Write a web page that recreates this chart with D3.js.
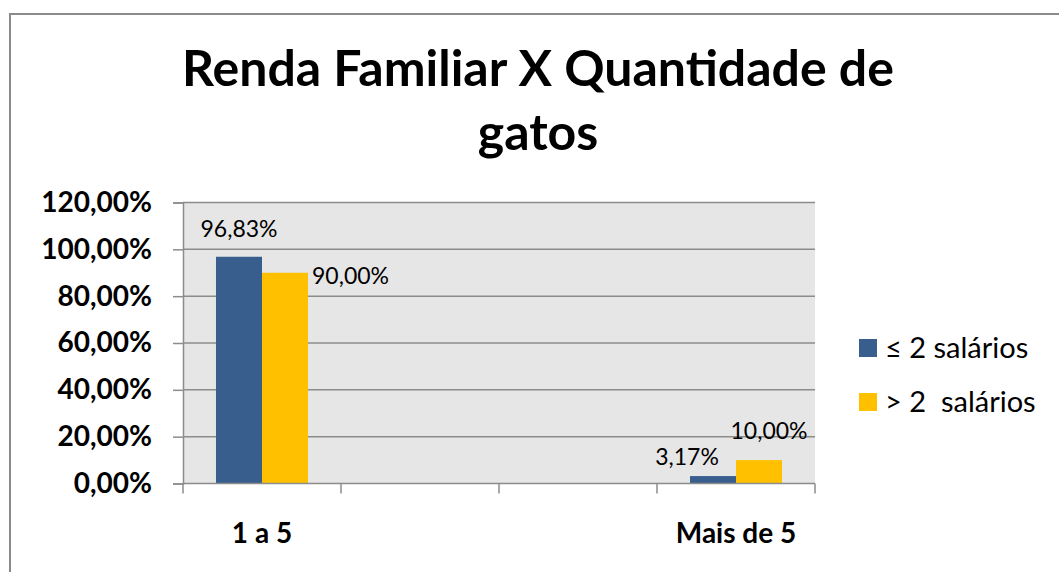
<!DOCTYPE html>
<html>
<head>
<meta charset="utf-8">
<script src="https://cdn.jsdelivr.net/npm/d3@7"></script>
<style>
  html, body { margin: 0; padding: 0; background: #ffffff; }
  svg { display: block; }
  text { font-family: Lato, "Open Sans", sans-serif; fill: #000; }
</style>
</head>
<body>
<svg id="chart" width="1059" height="572"></svg>
<script>
// ---- data ----
const titleLines = ["Renda Familiar X Quantidade de", "gatos"];
const categories = ["1 a 5", "", "", "Mais de 5"];
const seriesNames = ["\u2264 2 salários", "> 2  salários"];
const seriesLow = [96.83, null, null, 3.17];   // ≤ 2 salários
const seriesHigh = [90.00, null, null, 10.00]; // > 2 salários
const yTicks = [0, 20, 40, 60, 80, 100, 120];

// ---- style ----
const colors = ["#385E8D", "#FFC000"];
// label offsets (dx, dy, anchor) for each series / category, mimic manual placement
const labelPlacement = [
  [{dx: 0, dy: -20, anchor: "middle"}, null, null, {dx: -26, dy: -11, anchor: "middle"}],
  [{dx: 4, dy: 11, anchor: "start"}, null, null, {dx: 10, dy: -21, anchor: "middle"}]
];

const svg = d3.select("#chart");
const margin = {left: 183, right: 815, top: 202.5, bottom: 483.5};

// outer chart border
svg.append("path")
  .attr("d", "M10,572 L10,14 L1059,14")
  .attr("fill", "none").attr("stroke", "#8a8a8a").attr("stroke-width", 2);

// title
svg.append("text").attr("x", 538).attr("y", 86).attr("text-anchor", "middle")
  .style("font-size", "50px").style("font-weight", "700").text(titleLines[0]);
svg.append("text").attr("x", 538).attr("y", 150).attr("text-anchor", "middle")
  .style("font-size", "50px").style("font-weight", "700").text(titleLines[1]);

const idx = categories.map((d, i) => i);
const x0 = d3.scaleBand().domain(idx).range([margin.left, margin.right]).padding(0);
const x1 = d3.scaleBand().domain([0, 1]).range([0, x0.bandwidth()]).paddingInner(0).paddingOuter(0.717);
const y = d3.scaleLinear().domain([0, 120]).range([margin.bottom, margin.top]);

// plot background
svg.append("rect").attr("x", margin.left).attr("y", margin.top)
  .attr("width", margin.right - margin.left).attr("height", margin.bottom - margin.top)
  .attr("fill", "#e6e6e6");

// gridlines
svg.append("g").selectAll("line").data(yTicks.filter(d => d > 0)).join("line")
  .attr("x1", margin.left).attr("x2", margin.right)
  .attr("y1", d => y(d)).attr("y2", d => y(d))
  .attr("stroke", "#8c8c8c").attr("stroke-width", 1.5);

// y axis
const yAxis = svg.append("g").attr("transform", `translate(${margin.left},0)`)
  .call(d3.axisLeft(y).tickValues(yTicks).tickSize(10).tickPadding(21)
    .tickFormat(d => d.toFixed(2).replace(".", ",") + "%"));
yAxis.select(".domain").attr("stroke", "#8c8c8c").attr("stroke-width", 1.5);
yAxis.selectAll(".tick line").attr("stroke", "#8c8c8c").attr("stroke-width", 1.5);
yAxis.selectAll(".tick text").style("font-family", "Lato, sans-serif")
  .style("font-size", "28px").style("font-weight", "700").attr("fill", "#000");

// bars
const series = [seriesLow, seriesHigh];
series.forEach((vals, s) => {
  svg.append("g").selectAll("rect")
    .data(vals.map((v, i) => ({v, i})).filter(d => d.v !== null))
    .join("rect")
    .attr("x", d => x0(d.i) + x1(s))
    .attr("width", x1.bandwidth())
    .attr("y", d => y(d.v))
    .attr("height", d => y(0) - y(d.v))
    .attr("fill", colors[s]);
});

// x axis line and boundary ticks
const bounds = idx.map(i => x0(i)).concat([margin.right]);
svg.append("line").attr("x1", margin.left).attr("x2", margin.right)
  .attr("y1", y(0)).attr("y2", y(0)).attr("stroke", "#8c8c8c").attr("stroke-width", 1.5);
svg.append("g").selectAll("line").data(bounds).join("line")
  .attr("x1", d => d).attr("x2", d => d)
  .attr("y1", y(0)).attr("y2", y(0) + 10)
  .attr("stroke", "#8c8c8c").attr("stroke-width", 1.5);

// category labels
svg.append("g").selectAll("text").data(idx.filter(i => categories[i] !== "")).join("text")
  .attr("x", i => x0(i) + x0.bandwidth() / 2)
  .attr("y", 543)
  .attr("text-anchor", "middle")
  .style("font-size", "28px").style("font-weight", "700")
  .text(i => categories[i]);

// data labels
const fmt = v => v.toFixed(2).replace(".", ",") + "%";
series.forEach((vals, s) => {
  vals.forEach((v, i) => {
    if (v === null) return;
    const p = labelPlacement[s][i];
    const bx = x0(i) + x1(s);
    const ax = p.anchor === "start" ? bx + x1.bandwidth() : bx + x1.bandwidth() / 2;
    svg.append("text")
      .attr("x", ax + p.dx).attr("y", y(v) + p.dy)
      .attr("text-anchor", p.anchor)
      .style("font-size", "23px").style("font-weight", "400")
      .text(fmt(v));
  });
});

// legend
const legend = svg.append("g");
seriesNames.forEach((name, s) => {
  const ly = 348 + s * 54;
  legend.append("rect").attr("x", 859).attr("y", ly - 9).attr("width", 18).attr("height", 18)
    .attr("fill", colors[s]);
  legend.append("text").attr("x", 885).attr("y", ly).attr("dy", "0.35em")
    .attr("xml:space", "preserve").style("white-space", "pre")
    .style("font-size", "29px").style("font-weight", "400").text(name);
});
</script>
</body>
</html>
